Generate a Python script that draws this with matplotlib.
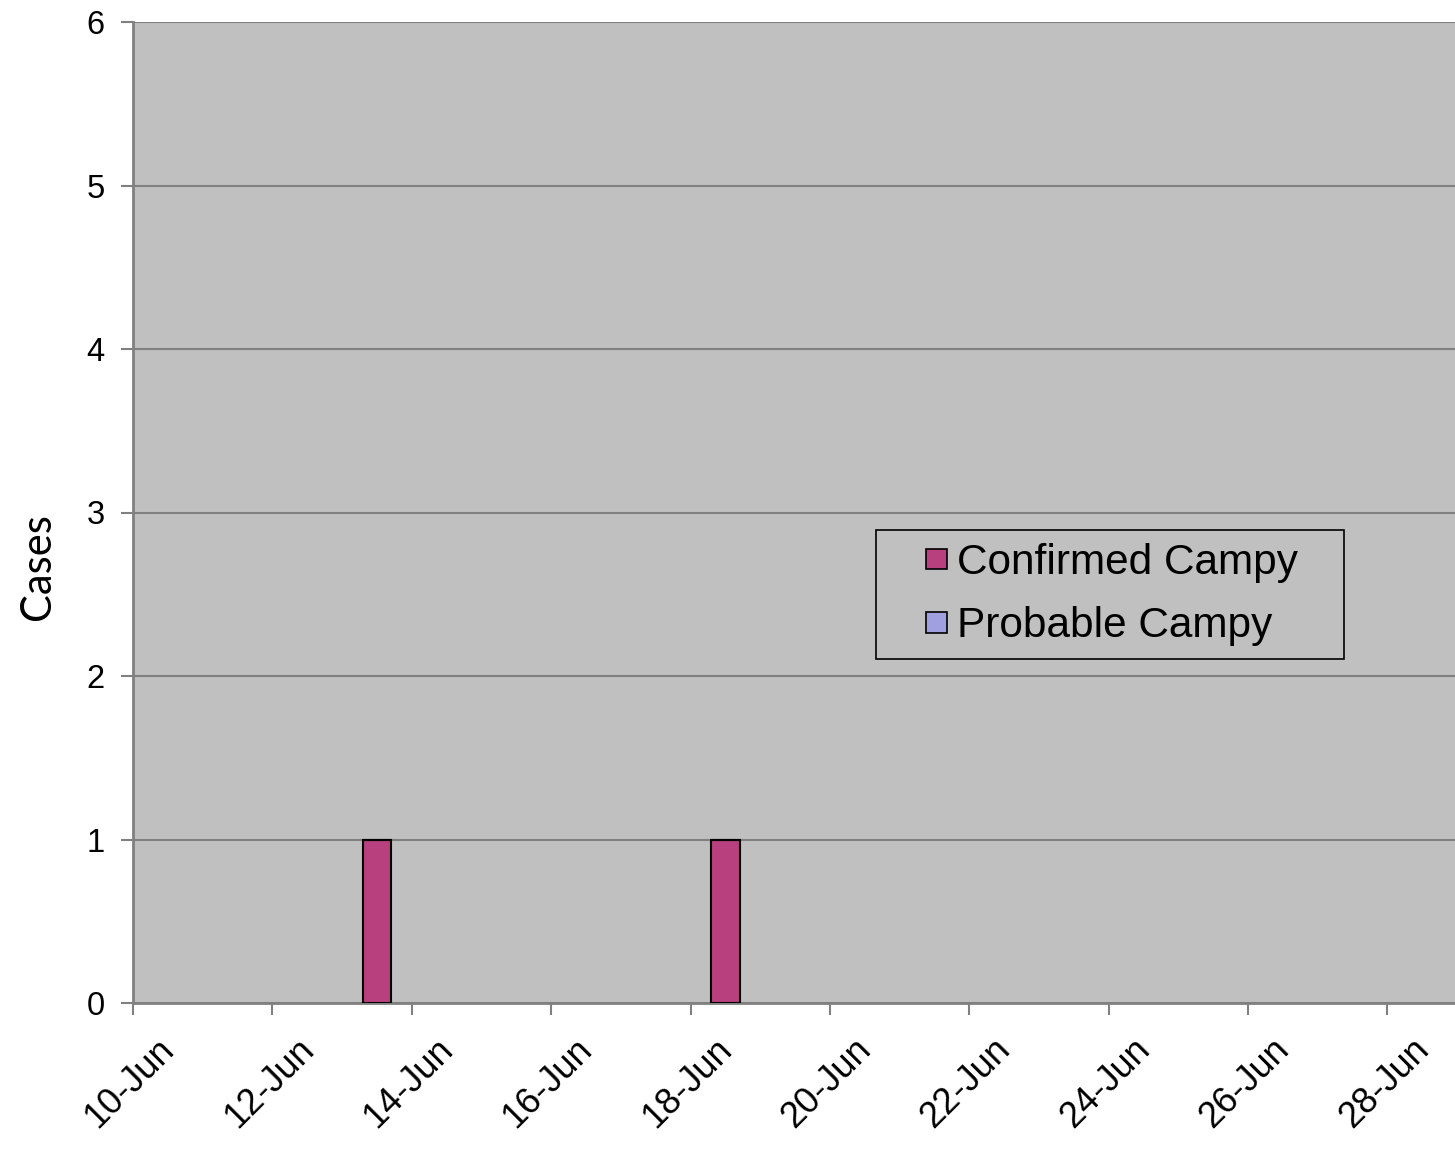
import matplotlib
matplotlib.use("Agg")
import matplotlib.pyplot as plt
import matplotlib.dates as mdates
import matplotlib.transforms as mtransforms
from matplotlib.patches import Patch, Rectangle
from matplotlib.legend_handler import HandlerPatch
import datetime as dt

# Data
dates = ["2010-06-13", "2010-06-18"]
confirmed = [1, 1]
probable = [0, 0]
series_names = ["Confirmed Campy", "Probable Campy"]
tick_dates = ["2010-06-10", "2010-06-12", "2010-06-14", "2010-06-16", "2010-06-18",
              "2010-06-20", "2010-06-22", "2010-06-24", "2010-06-26", "2010-06-28"]
y_ticks = [0, 1, 2, 3, 4, 5, 6]

plt.rcParams['font.family'] = ['Liberation Sans', 'DejaVu Sans']

C_CONF = '#B8407E'
C_PROB = '#A0A0E0'

fig = plt.figure(figsize=(14.55, 11.5), dpi=100)
ax = fig.add_axes([133/1455, 1 - 1003/1150, 1 - 133/1455, (1003 - 22)/1150])
ax.set_facecolor('#C0C0C0')

d = [dt.datetime.strptime(s, "%Y-%m-%d") + dt.timedelta(hours=12) for s in dates]
xd = mdates.date2num(d)
ax.bar(xd, confirmed, width=0.41, color=C_CONF, edgecolor='black', linewidth=1.5, zorder=3)
ax.bar(xd, probable, bottom=confirmed, width=0.41, color=C_PROB, edgecolor='black', linewidth=1.5, zorder=3)

x0 = mdates.date2num(dt.datetime(2010, 6, 10))
ax.set_xlim(x0, x0 + 18.97)
ax.set_ylim(0, 6)
ax.set_yticks(y_ticks)
ax.yaxis.grid(True, color='#808080', linewidth=1.5, zorder=1)
ax.set_axisbelow(True)

tks = [mdates.date2num(dt.datetime.strptime(s, "%Y-%m-%d")) for s in tick_dates]
ax.set_xticks(tks)
ax.set_xticklabels([dt.datetime.strptime(s, "%Y-%m-%d").strftime("%d-%b").lstrip('0') for s in tick_dates],
                   rotation=45, ha='right', va='top', rotation_mode='anchor')

for side in ['top', 'right']:
    ax.spines[side].set_visible(False)
for side in ['left', 'bottom']:
    ax.spines[side].set_color('#808080')
    ax.spines[side].set_linewidth(2)

ax.tick_params(axis='both', direction='out', length=8.5, width=1.5, color='#808080')
ax.tick_params(axis='y', labelsize=23.5, pad=12)
ax.tick_params(axis='x', labelsize=26, pad=12)
offset = mtransforms.ScaledTranslation(17/72, 0, fig.dpi_scale_trans)
for lab in ax.get_xticklabels():
    lab.set_transform(lab.get_transform() + offset)

ax.set_ylabel('Cases', fontsize=30, family=['Lato', 'DejaVu Sans'])
ax.yaxis.set_label_coords((57 - 133) / 1322, (1003 - 567) / 981)


def square(legend, orig_handle, xdescent, ydescent, width, height, fontsize):
    s = 0.48 * fontsize
    return Rectangle((width - xdescent - s, -ydescent + (height - s) / 2), s, s)


handles = [Patch(facecolor=C_CONF, edgecolor='black', linewidth=1.2),
           Patch(facecolor=C_PROB, edgecolor='black', linewidth=1.2)]
lx0 = (876 - 133) / 1322
ltop = (1003 - 530) / 981
lw = 468 / 1322
leg = ax.legend(handles, series_names, loc='upper left', bbox_to_anchor=(lx0, ltop - 0.2, lw, 0.2),
                mode='expand', fontsize=30.5, frameon=True, fancybox=False, edgecolor='black',
                facecolor='#C0C0C0', handlelength=1.37, handleheight=0.7, handletextpad=0.24,
                borderpad=0.3, labelspacing=0.56, framealpha=1, borderaxespad=0,
                handler_map={Patch: HandlerPatch(patch_func=square)})
leg.get_frame().set_linewidth(1.2)

fig.savefig('out.png', dpi=100, facecolor='white')
